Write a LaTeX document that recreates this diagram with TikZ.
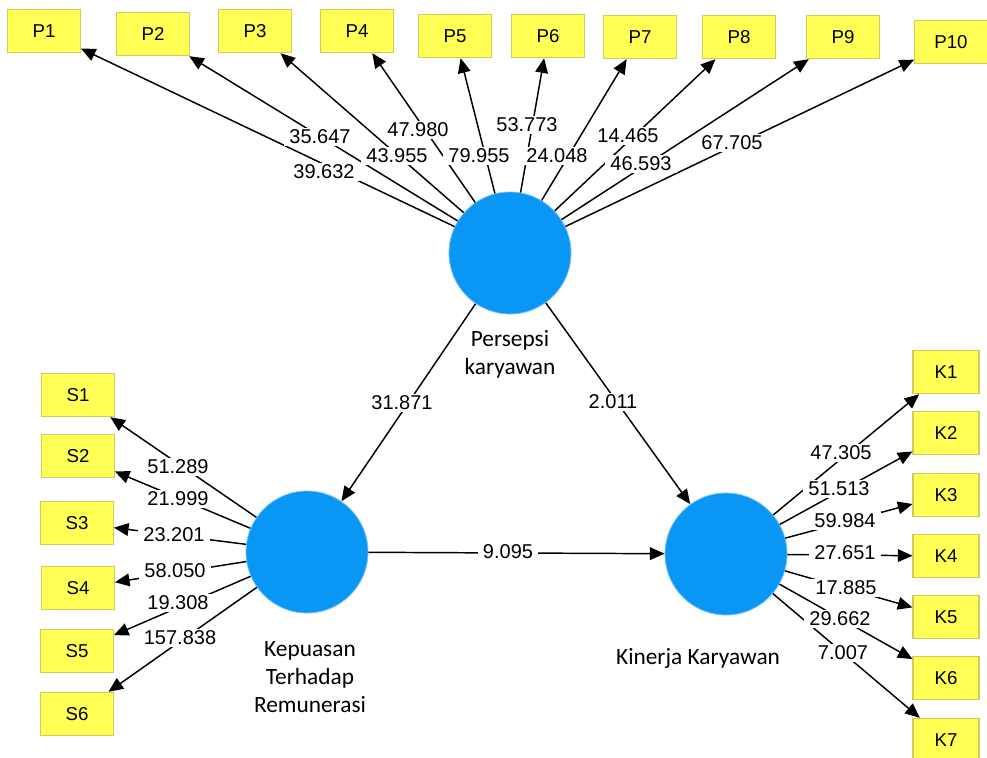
\documentclass[tikz,border=0pt]{standalone}
\usepackage{fontspec}
\setmainfont{Liberation Sans}
\newfontfamily\calib{Carlito}
\usetikzlibrary{arrows.meta}
\definecolor{lvblue}{RGB}{10,150,245}
\definecolor{lvedge}{RGB}{120,195,250}
\definecolor{boxyellow}{RGB}{255,255,85}
\definecolor{boxedge}{RGB}{205,205,90}
\begin{document}
\begin{tikzpicture}[x=0.75pt,y=-0.75pt,
  latent/.style={circle, fill=lvblue, draw=lvedge, line width=0.6pt, minimum size=91.5pt, inner sep=0pt},
  indic/.style={rectangle, fill=boxyellow, draw=boxedge, line width=0.8pt, minimum width=54.5pt, minimum height=32.5pt, inner sep=0pt, font=\fontsize{14}{16}\selectfont},
  kbox/.style={indic, minimum width=49.5pt},
  link/.style={line width=1.1pt, -{Triangle[length=11pt,width=9.5pt]}},
  val/.style={fill=white, inner xsep=4pt, inner ysep=1.5pt, font=\fontsize{15}{17}\selectfont},
  lvname/.style={align=center, font=\calib\fontsize{17.5}{21}\selectfont}
]
\clip (0,0) rectangle (987,757);
\fill[white] (0,0) rectangle (987,757);

% latent variables
\node[latent] (per) at (510,253) {};
\node[latent] (kep) at (307,552) {};
\node[latent] (kin) at (726,554) {};

% P indicators
\node[indic] (p1) at (44,31) {P1};
\node[indic] (p2) at (153,34) {P2};
\node[indic] (p3) at (255,31) {P3};
\node[indic] (p4) at (357,31) {P4};
\node[indic] (p5) at (455,36) {P5};
\node[indic] (p6) at (548,36) {P6};
\node[indic] (p7) at (640,37) {P7};
\node[indic] (p8) at (739,37) {P8};
\node[indic] (p9) at (843,37) {P9};
\node[indic] (p10) at (951,42) {P10};

% S indicators
\node[indic] (s1) at (78,395) {S1};
\node[indic] (s2) at (78,456) {S2};
\node[indic] (s3) at (77,523) {S3};
\node[indic] (s4) at (78,588) {S4};
\node[indic] (s5) at (77,651) {S5};
\node[indic] (s6) at (77,714) {S6};

% K indicators
\node[kbox] (k1) at (946,372) {K1};
\node[kbox] (k2) at (946,433) {K2};
\node[kbox] (k3) at (946,495) {K3};
\node[kbox] (k4) at (946,556) {K4};
\node[kbox] (k5) at (946,617) {K5};
\node[kbox] (k6) at (946,678) {K6};
\node[kbox] (k7) at (946,740) {K7};

% connectors
\foreach \t in {p1,p2,p3,p4,p5,p6,p7,p8,p9,p10} \draw[link] (per) -- (\t);
\foreach \t in {s1,s2,s3,s4,s5,s6} \draw[link] (kep) -- (\t);
\foreach \t in {k1,k2,k3,k4,k5,k6,k7} \draw[link] (kin) -- (\t);
\draw[link] (per) -- (kep);
\draw[link] (per) -- (kin);
\draw[link] (kep) -- (kin);

% loading values
\node[val] (v1) at (324,172) {39.632};
\node[val] (v2) at (320,137) {35.647};
\node[val] (v3) at (397,156) {43.955};
\node[val] (v4) at (418,130) {47.980};
\node[val] (v5) at (479,156) {79.955};
\node[val] (v6) at (527,125) {53.773};
\node[val] (v7) at (557,156) {24.048};
\node[val] (v8) at (628,136) {14.465};
\node[val] (v9) at (641,164) {46.593};
\node[val] (v10) at (732,143) {67.705};

\node[val] (w1) at (178,467) {51.289};
\node[val] (w2) at (178,499) {21.999};
\node[val] (w3) at (174,535) {23.201};
\node[val] (w4) at (175,571) {58.050};
\node[val] (w5) at (178,603) {19.308};
\node[val] (w6) at (180,638) {157.838};

\node[val] (u1) at (841,453) {47.305};
\node[val] (u2) at (839,489) {51.513};
\node[val] (u3) at (845,521) {59.984};
\node[val] (u4) at (845,553) {27.651};
\node[val] (u5) at (846,588) {17.885};
\node[val] (u6) at (840,619) {29.662};
\node[val] (u7) at (843,653) {7.007};

\node[val] (m1) at (402,403) {31.871};
\node[val] (m2) at (613,402) {2.011};
\node[val] (m3) at (508,552) {9.095};

% latent names
\node[lvname] (nper) at (510,354) {Persepsi\\karyawan};
\node[lvname] (nkep) at (310,677) {Kepuasan\\Terhadap\\Remunerasi};
\node[lvname] (nkin) at (698,658) {Kinerja Karyawan};
\end{tikzpicture}
\end{document}
